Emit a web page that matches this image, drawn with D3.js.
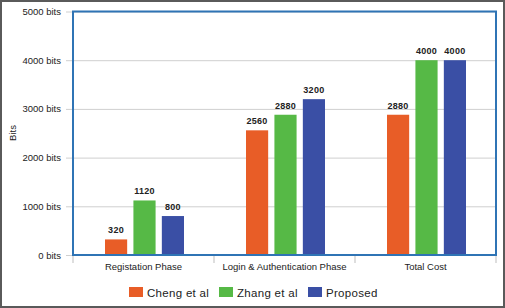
<!DOCTYPE html>
<html>
<head>
<meta charset="utf-8">
<script src="https://cdn.jsdelivr.net/npm/d3@7"></script>
<style>
  html, body { margin: 0; padding: 0; background: #fff; }
  svg { display: block; }
</style>
</head>
<body>
<div id="chart"></div>
<script>
var categories = ["Registation Phase", "Login & Authentication Phase", "Total Cost"];
var seriesNames = ["Cheng et al", "Zhang et al", "Proposed"];
var chengValues = [320, 2560, 2880];
var zhangValues = [1120, 2880, 4000];
var proposedValues = [800, 3200, 4000];
var yTicks = [0, 1000, 2000, 3000, 4000, 5000];

var colors = ["#e85d27", "#56b946", "#3a4fa5"];
var series = [chengValues, zhangValues, proposedValues];

var W = 505, H = 308;
var margin = { top: 11.5, right: 9, bottom: 53, left: 73 };
var width = W - margin.left - margin.right,
    height = H - margin.top - margin.bottom;

var svg = d3.select("#chart").append("svg")
    .attr("width", W)
    .attr("height", H);

// outer frame
svg.append("rect")
    .attr("x", 1).attr("y", 1)
    .attr("width", W - 2).attr("height", H - 2)
    .attr("fill", "#fff")
    .attr("stroke", "#5a5a5a")
    .attr("stroke-width", 2);

var g = svg.append("g").attr("transform", "translate(" + margin.left + "," + margin.top + ")");

var y = d3.scaleLinear().domain([0, 5000]).range([height, 0]);
var x0 = d3.scaleBand().domain(categories).range([0, width]).paddingInner(0).paddingOuter(0);
var x1 = d3.scaleBand().domain(seriesNames).range([32, x0.bandwidth() - 30]).paddingInner(0.22).paddingOuter(0);

// gridlines + y labels
var yAxis = g.append("g")
    .call(d3.axisLeft(y).tickValues(yTicks).tickSize(-width - 7).tickFormat(function (d) { return d + " bits"; }));
yAxis.select(".domain").remove();
yAxis.selectAll(".tick line")
    .attr("x1", -7)
    .attr("x2", width)
    .attr("stroke", "#cfcfcf")
    .attr("stroke-width", 1);
yAxis.selectAll(".tick text")
    .attr("x", -12)
    .attr("font-family", "Liberation Sans, Arial, sans-serif")
    .attr("font-size", 9.5)
    .attr("fill", "#222");

// category axis ticks
var edges = categories.map(function (c) { return x0(c); }).concat([width]);
g.selectAll(".cat-tick").data(edges).enter().append("line")
    .attr("x1", function (d) { return d; })
    .attr("x2", function (d) { return d; })
    .attr("y1", height)
    .attr("y2", height + 8)
    .attr("stroke", "#bdbdbd");

g.selectAll(".cat-label").data(categories).enter().append("text")
    .attr("x", function (d) { return x0(d) + x0.bandwidth() / 2; })
    .attr("y", height + 15)
    .attr("text-anchor", "middle")
    .attr("font-family", "Liberation Sans, Arial, sans-serif")
    .attr("font-size", 9.5)
    .attr("fill", "#222")
    .text(function (d) { return d; });

// bars
series.forEach(function (vals, si) {
    var grp = g.append("g");
    grp.selectAll("rect").data(vals).enter().append("rect")
        .attr("x", function (d, i) { return x0(categories[i]) + x1(seriesNames[si]); })
        .attr("y", function (d) { return y(d); })
        .attr("width", x1.bandwidth())
        .attr("height", function (d) { return height - y(d); })
        .attr("fill", colors[si]);
    grp.selectAll("text").data(vals).enter().append("text")
        .attr("x", function (d, i) { return x0(categories[i]) + x1(seriesNames[si]) + x1.bandwidth() / 2; })
        .attr("y", function (d) { return y(d) - 6; })
        .attr("text-anchor", "middle")
        .attr("font-family", "Liberation Sans, Arial, sans-serif")
        .attr("font-weight", "bold")
        .attr("font-size", 9)
        .attr("letter-spacing", 0.3)
        .attr("fill", "#222")
        .text(function (d) { return d; });
});

// plot border
g.append("rect")
    .attr("x", 0).attr("y", 0)
    .attr("width", width).attr("height", height)
    .attr("fill", "none")
    .attr("stroke", "#2f74b5")
    .attr("stroke-width", 2);

// y title
svg.append("text")
    .attr("transform", "translate(16,133) rotate(-90)")
    .attr("text-anchor", "middle")
    .attr("font-family", "Liberation Sans, Arial, sans-serif")
    .attr("font-size", 9.5)
    .attr("fill", "#222")
    .text("Bits");

// legend
var legendX = [129, 219, 308];
var legend = svg.append("g");
seriesNames.forEach(function (name, i) {
    legend.append("rect")
        .attr("x", legendX[i]).attr("y", 287)
        .attr("width", 14).attr("height", 10)
        .attr("fill", colors[i]);
    legend.append("text")
        .attr("x", legendX[i] + 18).attr("y", 296.5)
        .attr("font-family", "Liberation Sans, Arial, sans-serif")
        .attr("font-size", 11.5)
        .attr("letter-spacing", 0.3)
        .attr("fill", "#222")
        .text(name);
});
</script>
</body>
</html>
